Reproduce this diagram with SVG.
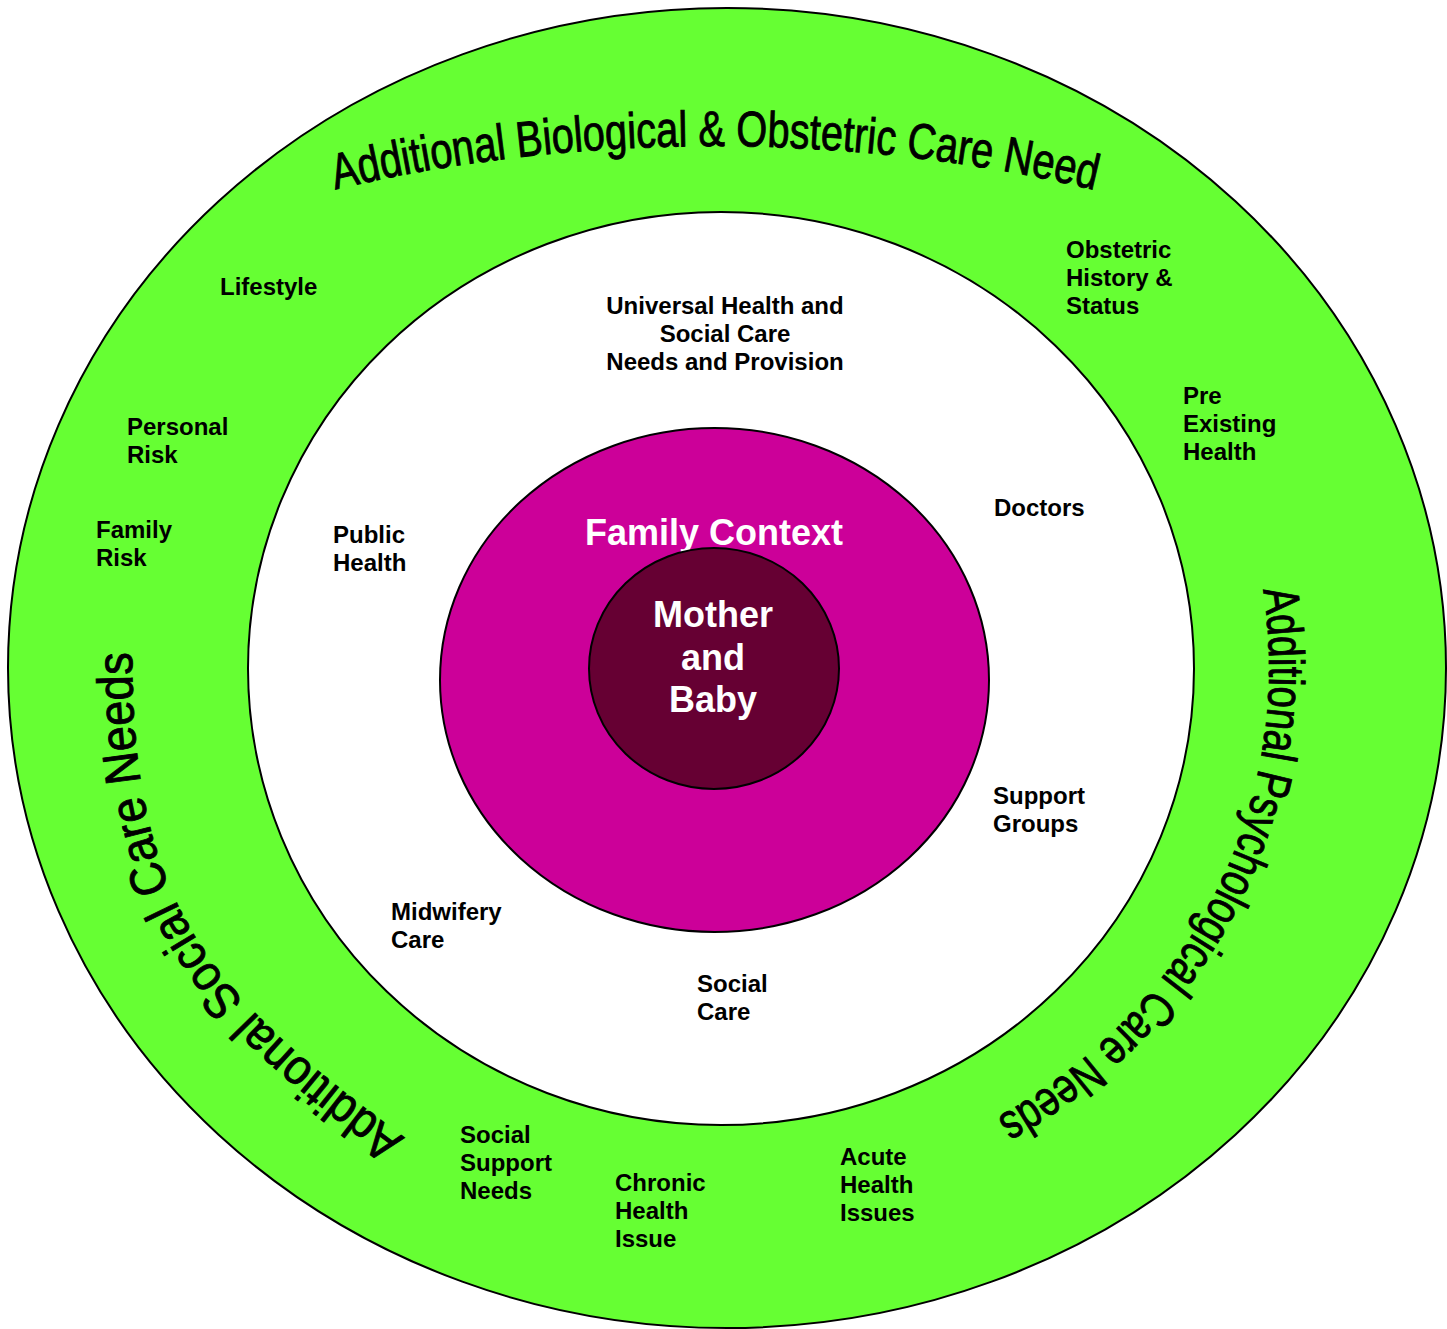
<svg xmlns="http://www.w3.org/2000/svg" xmlns:xlink="http://www.w3.org/1999/xlink" width="1447" height="1329" viewBox="0 0 1447 1329">
<style>
.ring{stroke:#000;stroke-width:2}
.lbl{font-family:"Liberation Sans",Arial,sans-serif;font-weight:bold;font-size:24px;fill:#000}
.arc{font-family:"Liberation Sans",Arial,sans-serif;font-size:50px;fill:#000;stroke:#000;stroke-width:0.9}
.ctr{font-family:"Liberation Sans",Arial,sans-serif;font-weight:bold;font-size:36px;fill:#fff;text-anchor:middle}
</style>
<defs>
<path id="pTop" d="M 300,198.4 A 948 522 0 0 1 1130,199"/>
<path id="pRight" d="M 1263,590 A 542 518 0 0 1 912,1155"/>
<path id="pLeft" d="M 405,1138 C 209,994 132,906 132,653 L 132,580"/>
</defs>
<rect width="1447" height="1329" fill="#fff"/>
<g id="outer-ring">
<ellipse class="ring" cx="727" cy="668" rx="719" ry="660" fill="#66FF33"/>
<text class="arc"><textPath xlink:href="#pTop" href="#pTop" startOffset="50%" text-anchor="middle" textLength="766" lengthAdjust="spacingAndGlyphs">Additional Biological &amp; Obstetric Care Need</textPath></text>
<text class="arc"><textPath xlink:href="#pRight" href="#pRight" textLength="630" lengthAdjust="spacingAndGlyphs">Additional Psychological Care Needs</textPath></text>
<text class="arc"><textPath xlink:href="#pLeft" href="#pLeft" textLength="588" lengthAdjust="spacingAndGlyphs">Additional Social Care Needs</textPath></text>
</g>
<g id="outer-labels" class="lbl">
<text x="220" y="295">Lifestyle</text>
<text x="1066" y="258">Obstetric</text>
<text x="1066" y="286">History &amp;</text>
<text x="1066" y="314">Status</text>
<text x="1183" y="404">Pre</text>
<text x="1183" y="432">Existing</text>
<text x="1183" y="460">Health</text>
<text x="127" y="435">Personal</text>
<text x="127" y="463">Risk</text>
<text x="96" y="538">Family</text>
<text x="96" y="566">Risk</text>
<text x="460" y="1143">Social</text>
<text x="460" y="1171">Support</text>
<text x="460" y="1199">Needs</text>
<text x="615" y="1191">Chronic</text>
<text x="615" y="1219">Health</text>
<text x="615" y="1247">Issue</text>
<text x="840" y="1165">Acute</text>
<text x="840" y="1193">Health</text>
<text x="840" y="1221">Issues</text>
</g>
<g id="universal-ring">
<ellipse class="ring" cx="721" cy="668.5" rx="473" ry="456.5" fill="#fff"/>
<g class="lbl">
<text x="725" y="314" text-anchor="middle">Universal Health and</text>
<text x="725" y="342" text-anchor="middle">Social Care</text>
<text x="725" y="370" text-anchor="middle">Needs and Provision</text>
<text x="333" y="543">Public</text>
<text x="333" y="571">Health</text>
<text x="994" y="516">Doctors</text>
<text x="993" y="804">Support</text>
<text x="993" y="832">Groups</text>
<text x="391" y="920">Midwifery</text>
<text x="391" y="948">Care</text>
<text x="697" y="992">Social</text>
<text x="697" y="1020">Care</text>
</g>
</g>
<g id="family-context">
<ellipse class="ring" cx="714.5" cy="680" rx="274.5" ry="252" fill="#CC0099"/>
<text class="ctr" x="714" y="545" font-size="37">Family Context</text>
</g>
<g id="mother-baby">
<ellipse class="ring" cx="714" cy="668.5" rx="125" ry="120.5" fill="#660033"/>
<text class="ctr" x="713" y="627">Mother</text>
<text class="ctr" x="713" y="669.5">and</text>
<text class="ctr" x="713" y="712">Baby</text>
</g>
<g id="connectors"/>
</svg>
